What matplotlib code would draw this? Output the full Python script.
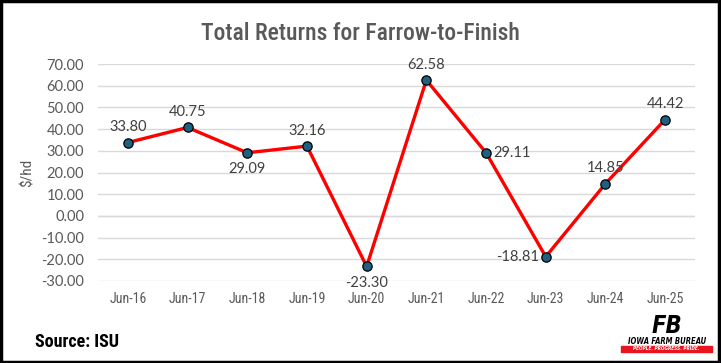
import matplotlib
matplotlib.use("Agg")
import matplotlib.pyplot as plt
from matplotlib.patches import Rectangle
from matplotlib import font_manager

categories = ["Jun-16", "Jun-17", "Jun-18", "Jun-19", "Jun-20",
              "Jun-21", "Jun-22", "Jun-23", "Jun-24", "Jun-25"]
values = [33.80, 40.75, 29.09, 32.16, -23.30, 62.58, 29.11, -18.81, 14.85, 44.42]
label_pos = ["above", "above", "below", "above", "below",
             "above", "right", "left", "above", "above"]
yticks = [-30, -20, -10, 0, 10, 20, 30, 40, 50, 60, 70]

names = {f.name for f in font_manager.fontManager.ttflist}
narrow = None
for cand in ["Liberation Sans Narrow", "Roboto Condensed", "Open Sans Condensed",
             "Noto Sans Condensed", "DejaVu Sans Condensed"]:
    if cand in names:
        narrow = cand
        break
if narrow is None:
    narrow = "DejaVu Sans"
plt.rcParams["font.family"] = [narrow, "DejaVu Sans"]
plt.rcParams["font.stretch"] = "condensed"
num_font = ["Lato", "DejaVu Sans"]

fig = plt.figure(figsize=(7.21, 3.63), dpi=100)
ax = fig.add_axes([98/721, 1-281/363, (695-98)/721, (281-64)/363])

x = list(range(len(categories)))
ax.plot(x, values, color="#FF0000", lw=2.4, zorder=2)
ax.scatter(x, values, s=45, color="#1F5F7F", edgecolor="black", linewidth=0.9, zorder=3)

for xi, v, p in zip(x, values, label_pos):
    off = {"above": (0, 6), "below": (0, -7), "right": (5, 0), "left": (-5, 0)}[p]
    ha = {"above": "center", "below": "center", "right": "left", "left": "right"}[p]
    va = {"above": "bottom", "below": "top", "right": "center", "left": "center"}[p]
    ax.annotate(f"{v:.2f}", (xi, v), xytext=off, textcoords="offset points",
                ha=ha, va=va, fontsize=10.5, color="#404040", family=num_font,
                fontstretch="normal")

ax.set_xlim(-0.5, len(categories) - 0.5)
ax.set_ylim(-30, 70)
ax.set_yticks(yticks)
ax.set_yticklabels([f"{t:.2f}" for t in yticks], family=num_font, fontstretch="normal")
ax.set_xticks(x)
ax.set_xticklabels(categories)
ax.yaxis.grid(True, color="#D9D9D9", lw=1)
ax.set_axisbelow(True)
for s in ax.spines.values():
    s.set_visible(False)
ax.axhline(0, color="#D9D9D9", lw=1, zorder=1)
ax.tick_params(axis="both", length=0, labelsize=10, labelcolor="#595959")
ax.tick_params(axis="y", labelsize=10.5, pad=10)
ax.tick_params(axis="x", pad=8)
ax.set_ylabel("$/hd", fontsize=11, color="#595959")
ax.yaxis.set_label_coords((35 - 98) / 597, 0.5)

fig.text(0.5, 1-33/363, "Total Returns for Farrow-to-Finish", ha="center", va="center",
         fontsize=17, color="#595959", fontweight="medium")
fig.text(35/721, 1-342/363, "Source: ISU", ha="left", va="center",
         fontsize=13, color="black", fontweight="bold")

# simple logo approximation
fig.text(667/721, 1-333/363, "FB", ha="center", va="baseline", fontsize=17,
         fontweight="bold", style="italic", color="black", family="DejaVu Sans")
fig.text(667/721, 1-337/363, "IOWA FARM BUREAU", ha="center", va="top",
         fontsize=5.5, fontweight="bold", style="italic", color="black", family="DejaVu Sans")
fig.patches.append(Rectangle((621/721, 1-352/363), 91/721, 6/363,
                             transform=fig.transFigure, color="#E8141E"))
fig.text(666/721, 1-349/363, "PEOPLE. PROGRESS. PRIDE.", ha="center", va="center",
         fontsize=3.4, fontweight="bold", style="italic", color="white", family="DejaVu Sans")

fig.patches.append(Rectangle((0.002, 0.004), 0.995, 0.992, transform=fig.transFigure,
                             fill=False, edgecolor="black", lw=2.5))

fig.savefig("out.png", dpi=100)
